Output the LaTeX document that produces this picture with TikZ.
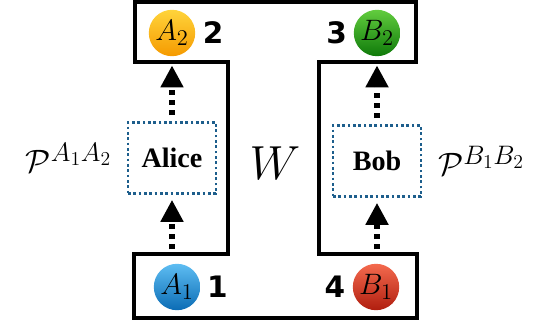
\documentclass[tikz,border=0pt]{standalone}
\usepackage{fix-cm}
\usepackage{amsmath}
\usepackage{amssymb}
\usepackage{xcolor}
\usepackage{fontspec}
\usepackage{tikz}
\usetikzlibrary{arrows.meta,positioning}
\newfontfamily\numfont{DejaVu Sans}
\newfontfamily\namefont{Liberation Serif}
\DeclareMathSizes{21}{21}{16}{11}
\DeclareMathSizes{23}{23}{19}{14}
\definecolor{boxblue}{HTML}{1D5E8C}
\definecolor{orangetop}{HTML}{FFD43B}
\definecolor{orangebot}{HTML}{F59A00}
\definecolor{bluetop}{HTML}{5EBDF2}
\definecolor{bluebot}{HTML}{0B6CB5}
\definecolor{greentop}{HTML}{62CC3E}
\definecolor{greenbot}{HTML}{0F7A0A}
\definecolor{redtop}{HTML}{F46A4E}
\definecolor{redbot}{HTML}{B01E0F}
\tikzset{
    party/.style={circle, inner sep=0pt, minimum size=33pt, font=\fontsize{21}{24}\selectfont},
    num/.style={inner sep=0pt, font=\numfont\bfseries\fontsize{21}{24}\selectfont},
    agent/.style={draw=boxblue, line width=1.9pt, dash pattern=on 1.9pt off 1.9pt,
        minimum width=62.6pt, minimum height=50.5pt, font=\namefont\bfseries\fontsize{20}{24}\selectfont},
    flow/.style={line width=3.6pt, dash pattern=on 3.6pt off 3.7pt,
        -{Triangle[length=15.6pt, width=15.6pt]}},
    frame/.style={line width=2.4pt, line join=miter}
}

\begin{document}
\begin{tikzpicture}[x=0.025cm, y=-0.025cm]
                \useasboundingbox (0, 0) rectangle (557, 328);
                \draw[frame] (135, 2) -| (416, 62) -| (319, 254) -| (417, 318) -| (134, 254) -| (228, 62) -- (135, 62) -- cycle;
                \node[party, top color=orangetop, bottom color=orangebot] (A2) at (172, 33) {$A_2$};
                \node[party, top color=greentop, bottom color=greenbot] (B2) at (377, 33) {$B_2$};
                \node[party, top color=bluetop, bottom color=bluebot] (A1) at (177, 287) {$A_1$};
                \node[party, top color=redtop, bottom color=redbot] (B1) at (376, 287) {$B_1$};
                \node[num, right=5pt of A2] (n2) {2};
                \node[num, left=4.5pt of B2] (n3) {3};
                \node[num, right=4.5pt of A1] (n1) {1};
                \node[num, left=5pt of B1] (n4) {4};
                \node[agent] (alice) at (172, 158) {Alice};
                \node[agent] (bob) at (377, 161) {Bob};
                \node[inner sep=0pt, left=10.5pt of alice, font=\fontsize{23}{26}\selectfont] (palice) {$\mathcal{P}^{A_1A_2}$};
                \node[inner sep=0pt, right=11pt of bob, font=\fontsize{23}{26}\selectfont] (pbob) {$\mathcal{P}^{B_1B_2}$};
                \node[font=\fontsize{34}{40}\selectfont] (w) at (275, 163) {$W$};
                \draw[flow, shorten <=10pt, shorten >=3.6pt] (alice.south |- A1.north) -- (alice.south);
                \draw[flow, shorten <=4.3pt, shorten >=6.4pt] (alice.north) -- (alice.north |- A2.south);
                \draw[flow, shorten <=10pt, shorten >=3.6pt] (bob.south |- B1.north) -- (bob.south);
                \draw[flow, shorten <=4.3pt, shorten >=6.4pt] (bob.north) -- (bob.north |- B2.south);
            \end{tikzpicture}
\end{document}
